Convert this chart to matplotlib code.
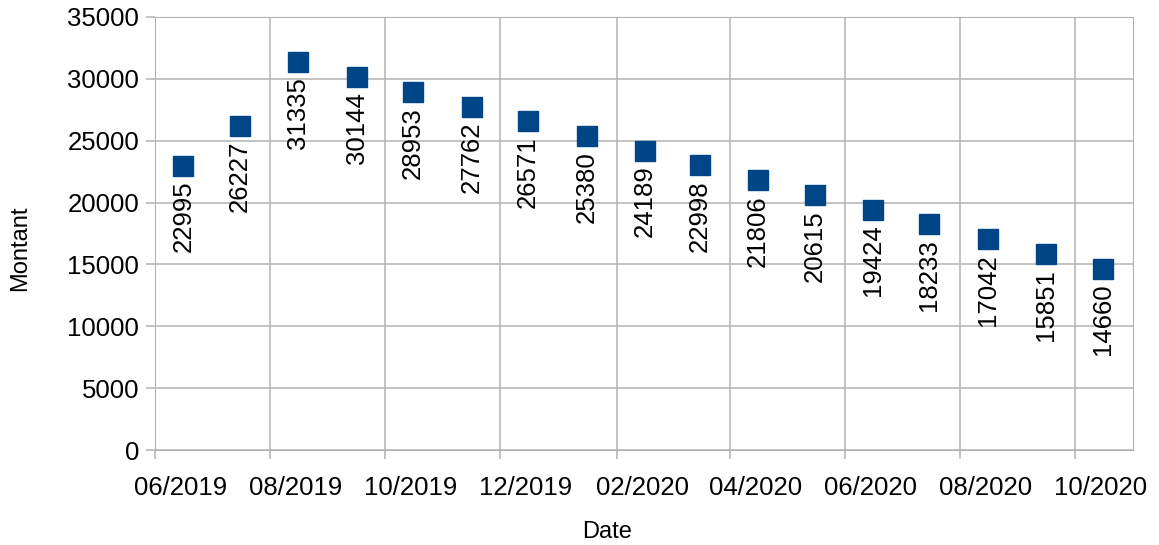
import numpy as np
import pandas as pd
import matplotlib
matplotlib.use("Agg")
import matplotlib.pyplot as plt
import matplotlib.dates as mdates
import matplotlib.transforms as mtransforms

plt.rcParams['font.family'] = ['Liberation Sans', 'DejaVu Sans']

# donnees
dates = pd.date_range("2019-06-01", periods=17, freq="MS") + pd.Timedelta(days=15)
montants = [22995, 26227, 31335, 30144, 28953, 27762, 26571, 25380, 24189,
            22998, 21806, 20615, 19424, 18233, 17042, 15851, 14660]

fig = plt.figure(figsize=(11.59, 5.45), dpi=100)
ax = fig.add_axes([155 / 1159, 1 - 450 / 545, (1133 - 155) / 1159, (450 - 17) / 545])

ax.plot(dates, montants, linestyle='none', marker='s', markersize=14.4,
        color='#004586', zorder=3)

for d, v in zip(dates, montants):
    ax.annotate(str(v), (d, v), xytext=(0, -15), textcoords='offset pixels',
                rotation=90, ha='center', va='top', fontsize=18.5, zorder=4)

ax.set_xlim(pd.Timestamp("2019-06-01"), pd.Timestamp("2020-11-01"))
ax.set_ylim(0, 35000)
ax.set_yticks(np.arange(0, 35001, 5000))
ax.xaxis.set_major_locator(mdates.MonthLocator(bymonth=[2, 4, 6, 8, 10, 12]))
ax.xaxis.set_major_formatter(mdates.DateFormatter('%m/%Y'))

grid_c = '#b3b3b3'
ax.grid(True, color=grid_c, linewidth=1.1)
ax.set_axisbelow(True)
for s in ax.spines.values():
    s.set_color(grid_c)
ax.tick_params(colors=grid_c, labelcolor='black', labelsize=18.5, length=6.5, width=1.1)
ax.tick_params(axis='x', pad=12)
ax.tick_params(axis='y', pad=5)

# etiquettes de l'axe x decalees vers la droite
decal = mtransforms.ScaledTranslation(26 / 100, 0, fig.dpi_scale_trans)
for lab in ax.get_xticklabels():
    lab.set_transform(lab.get_transform() + decal)

ax.set_xlabel('Date', fontsize=17)
ax.set_ylabel('Montant', fontsize=17)
ax.xaxis.set_label_coords(0.462, -0.165)
ax.yaxis.set_label_coords(-0.127, 0.466)

fig.savefig('out.png', dpi=100)
